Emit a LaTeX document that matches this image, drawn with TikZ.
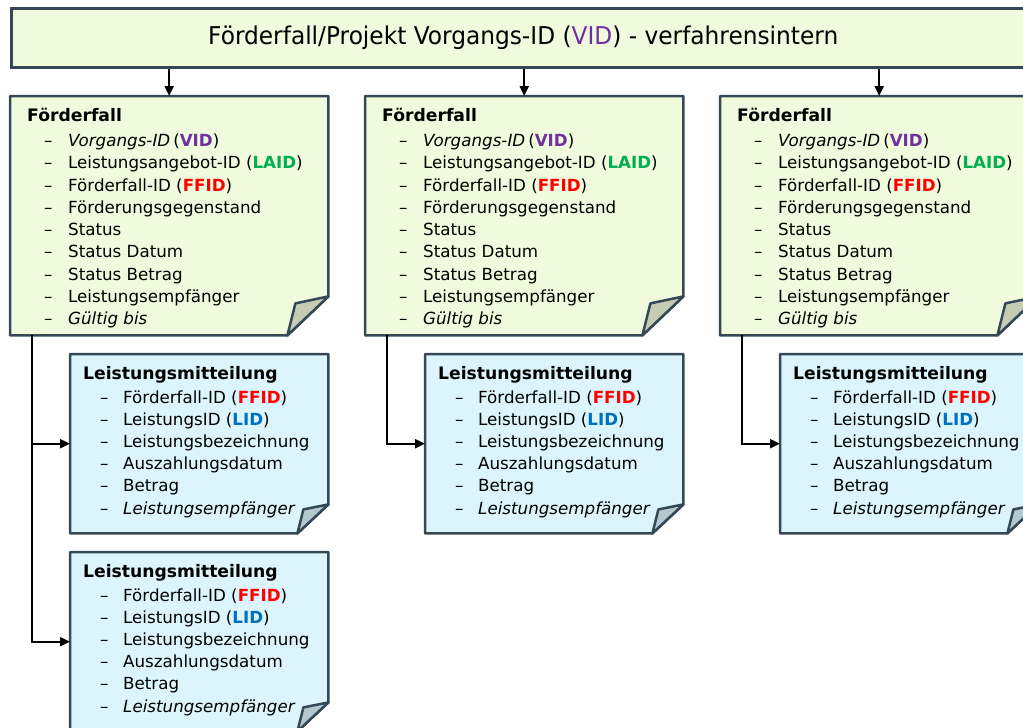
\documentclass[tikz,border=0pt]{standalone}
\usepackage{fontspec}
\setmainfont{DejaVu Sans}
\newfontfamily\titlefont{DejaVu Sans}[FakeStretch=0.95]
\usetikzlibrary{calc,arrows.meta}
\definecolor{bordc}{HTML}{344955}
\definecolor{ffill}{HTML}{F0FADC}
\definecolor{ffold}{HTML}{C6CCB4}
\definecolor{lfill}{HTML}{DCF5FC}
\definecolor{lfold}{HTML}{B4C8CD}
\definecolor{cvid}{HTML}{7030A0}
\definecolor{claid}{HTML}{00B050}
\definecolor{cffid}{HTML}{FF0000}
\definecolor{clid}{HTML}{0070C0}

\newcommand\foldbox[7]{%
  \filldraw[fill=#2, edgeline] (#1.north west) -- (#1.north east) -- ([yshift=#5pt]#1.south east) -- ([xshift=-#4pt]#1.south east) -- (#1.south west) -- cycle;
  \filldraw[fill=#3, edgeline] ([yshift=#5pt]#1.south east) -- ([xshift=-#6pt,yshift=#7pt]#1.south east) -- ([xshift=-#4pt]#1.south east) -- cycle;
}
\newcommand\ffcontent[1]{%
  \node[hdr] (#1-h) at ($(#1.north west)+(17,25.5)$) {Förderfall};
  \foreach \t [count=\i] in {{\textit{Vorgangs-ID}\hspace{3pt}(\textcolor{cvid}{\textbf{VID}})},
      {Leistungsangebot-ID (\textcolor{claid}{\textbf{LAID}})},
      {Förderfall-ID (\textcolor{cffid}{\textbf{FFID}})},
      Förderungsgegenstand, Status, Status Datum, Status Betrag, Leistungsempfänger,
      {\textit{Gültig bis}}}{
    \node[itm] (#1-d\i) at ($(#1.north west)+(34,28.25+22.25*\i)$) {–};
    \node[itm] (#1-t\i) at ($(#1.north west)+(58,28.25+22.25*\i)$) {\t};
  }
}
\newcommand\lmcontent[1]{%
  \node[hdr] (#1-h) at ($(#1.north west)+(13,25.3)$) {Leistungsmitteilung};
  \foreach \t [count=\i] in {{Förderfall-ID (\textcolor{cffid}{\textbf{FFID}})},
      {LeistungsID (\textcolor{clid}{\textbf{LID}})},
      Leistungsbezeichnung, Auszahlungsdatum, Betrag,
      {\textit{Leistungsempfänger}}}{
    \node[itm] (#1-d\i) at ($(#1.north west)+(30,27.16+22.14*\i)$) {–};
    \node[itm] (#1-t\i) at ($(#1.north west)+(53,27.16+22.14*\i)$) {\t};
  }
}

\begin{document}
\begin{tikzpicture}[x=1pt,y=-1pt,
  hdr/.style={anchor=base west, inner sep=0pt, font=\fontsize{17.2}{20}\selectfont\bfseries},
  itm/.style={anchor=base west, inner sep=0pt, font=\fontsize{16.7}{20}\selectfont},
  boxn/.style={rectangle, inner sep=0pt, anchor=north west},
  edgeline/.style={draw=bordc, line width=2.5pt, line join=round},
  conn/.style={draw=black, line width=2pt, -{Triangle[length=10pt,width=9pt]}}]
\useasboundingbox (0,0) rectangle (1023,728);
\clip (0,0) rectangle (1023,728);

\node[boxn, minimum width=1024pt, minimum height=59pt, fill=ffill, draw=bordc, line width=2.5pt,
  font=\titlefont\fontsize{24.5}{28}\selectfont] (title) at (10,7)
  {Förderfall/Projekt Vorgangs-ID (\textcolor{cvid}{VID}) - verfahrensintern};

\node[boxn, minimum width=318pt, minimum height=239pt] (f1) at (10,96) {};
\node[boxn, minimum width=318pt, minimum height=239pt] (f2) at (365,96) {};
\node[boxn, minimum width=318pt, minimum height=239pt] (f3) at (720,96) {};
\node[boxn, minimum width=258pt, minimum height=179pt] (l1) at (70,354) {};
\node[boxn, minimum width=258pt, minimum height=179pt] (l2) at (70,552) {};
\node[boxn, minimum width=258pt, minimum height=179pt] (l3) at (425,354) {};
\node[boxn, minimum width=258pt, minimum height=179pt] (l4) at (780,354) {};

\foldbox{f1}{ffill}{ffold}{41}{39}{33}{32}
\foldbox{f2}{ffill}{ffold}{41}{39}{33}{32}
\foldbox{f3}{ffill}{ffold}{41}{39}{33}{32}
\foldbox{l1}{lfill}{lfold}{31}{29}{25}{24}
\foldbox{l2}{lfill}{lfold}{31}{29}{25}{24}
\foldbox{l3}{lfill}{lfold}{31}{29}{25}{24}
\foldbox{l4}{lfill}{lfold}{31}{29}{25}{24}

\ffcontent{f1}
\ffcontent{f2}
\ffcontent{f3}
\lmcontent{l1}
\lmcontent{l2}
\lmcontent{l3}
\lmcontent{l4}

\draw[conn] (title.south -| f1.north) -- (f1.north);
\draw[conn] (title.south -| f2.north) -- (f2.north);
\draw[conn] (title.south -| f3.north) -- (f3.north);

\coordinate (c1) at ([xshift=22pt]f1.south west);
\coordinate (c2) at ([xshift=22pt]f2.south west);
\coordinate (c3) at ([xshift=22pt]f3.south west);
\draw[conn] (c1) |- (l1.west);
\draw[conn] (c1) |- (l2.west);
\draw[conn] (c2) |- (l3.west);
\draw[conn] (c3) |- (l4.west);
\end{tikzpicture}
\end{document}
